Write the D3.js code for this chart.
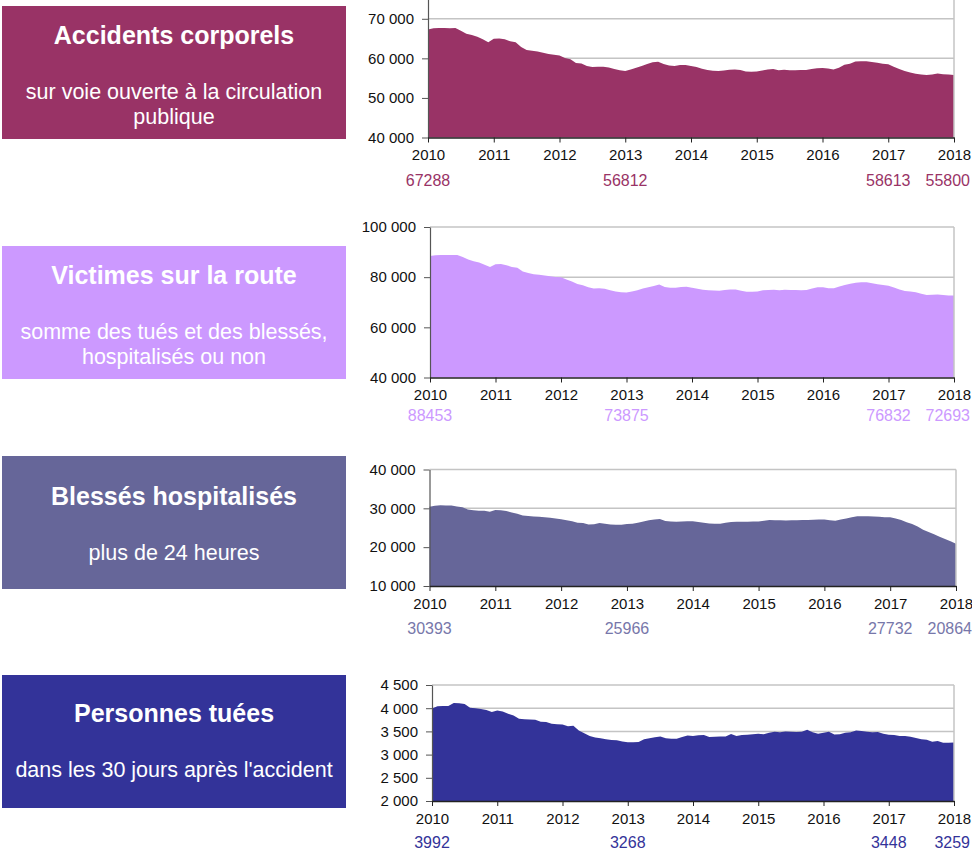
<!DOCTYPE html>
<html>
<head>
<meta charset="utf-8">
<script src="https://cdn.jsdelivr.net/npm/d3@7"></script>
<style>
  body { margin: 0; background: #fff; }
  svg { font-family: "Liberation Sans", Arial, sans-serif; }
</style>
</head>
<body>
<svg id="chart" width="972" height="852"></svg>
<script>

// cumuls sur 12 mois glissants, un point par mois (janv. 2010 -> janv. 2018)
var accidents = [
  67288, 67600, 67650, 67650, 67600, 67650, 67000, 66200, 65900, 65450, 64800, 64100,
  64950, 65000, 64800, 64300, 64100, 62900, 62100, 61900, 61750, 61400, 61100, 60900,
  60700, 60100, 59800, 58800, 58700, 58100, 57800, 57900, 57900, 57700, 57300, 57000,
  56812, 57200, 57600, 58100, 58600, 59000, 59150, 58600, 58200, 58050, 58300, 58300,
  58100, 57800, 57400, 57050, 56850, 56800, 56900, 57100, 57200, 57050, 56650, 56600,
  56650, 56900, 57200, 57300, 57000, 57150, 57000, 57000, 57050, 57050, 57300, 57500,
  57550, 57450, 57200, 57600, 58400, 58650, 59200, 59300, 59300, 59100, 58900, 58613,
  58500, 57900, 57300, 56800, 56400, 56100, 55900, 55800, 55900, 56200, 56000, 55900,
  55800];

var victimes = [
  88453, 88700, 88800, 88800, 88800, 88800, 88000, 87000, 86300, 85800, 85000, 84100,
  85150, 85200, 84800, 84100, 83800, 82300, 81700, 81200, 80950, 80700, 80400, 80100,
  80000, 79100, 78300, 77300, 76800, 76000, 75500, 75600, 75400, 74800, 74300, 74000,
  73875, 74300, 74800, 75500, 76000, 76500, 77100, 76100, 75800, 75800, 76100, 76200,
  75800, 75400, 75000, 74800, 74650, 74600, 74900, 75100, 75100, 74600, 74200, 74200,
  74300, 74800, 74900, 75000, 74750, 75000, 74850, 74850, 74800, 74900, 75500, 75950,
  76000, 75600, 75600, 76300, 76900, 77400, 77800, 77950, 77950, 77600, 77200, 76832,
  76600, 75900, 75100, 74500, 74300, 74000, 73400, 72900, 73000, 73100, 72900, 72700,
  72693];

var blesses = [
  30393, 30650, 30780, 30750, 30700, 30500, 30250, 29700, 29500, 29400, 29350, 29150,
  29550, 29500, 29300, 28950, 28600, 28150, 28000, 27900, 27850, 27700, 27550, 27350,
  27200, 26900, 26700, 26300, 26200, 25850, 25900, 26200, 26050, 25850, 25800, 25800,
  25966, 26050, 26300, 26600, 26900, 27100, 27250, 26750, 26600, 26550, 26600, 26650,
  26650, 26500, 26300, 26100, 26050, 26050, 26300, 26500, 26550, 26550, 26550, 26600,
  26600, 26800, 27000, 26900, 26900, 26850, 26900, 26950, 27000, 27000, 27050, 27150,
  27150, 26900, 26800, 27100, 27400, 27700, 27950, 27950, 27950, 27900, 27850, 27732,
  27700, 27400, 27000, 26400, 25950, 25300, 24500, 23900, 23300, 22700, 22100, 21500,
  20864];

var tues = [
  3992, 4040, 4050, 4050, 4110, 4105, 4090, 4010, 4000, 3985, 3960, 3920,
  3950, 3930, 3880, 3840, 3770, 3760, 3755, 3750, 3710, 3700, 3665, 3655,
  3650, 3610, 3620, 3520, 3460, 3400, 3370, 3355, 3330, 3315, 3310, 3280,
  3268, 3265, 3270, 3330, 3350, 3375, 3390, 3350, 3340, 3340, 3380, 3410,
  3400, 3415, 3425, 3380, 3385, 3390, 3390, 3445, 3400, 3420, 3430, 3440,
  3450, 3440, 3470, 3490, 3480, 3500, 3495, 3485, 3490, 3535, 3480, 3450,
  3470, 3490, 3435, 3440, 3470, 3480, 3520, 3510, 3495, 3480, 3485, 3448,
  3430, 3420, 3400, 3400, 3385, 3360, 3330, 3320, 3275, 3295, 3255, 3255,
  3259];

var startYear = 2010;
var yearTicks = [2010, 2011, 2012, 2013, 2014, 2015, 2016, 2017, 2018];

// chiffres affichés sous chaque graphe
var labelYears = [2010, 2013, 2017, 2018];
var accidentsLabels = ['67288', '56812', '58613', '55800'];
var victimesLabels = ['88453', '73875', '76832', '72693'];
var blessesLabels = ['30393', '25966', '27732', '20864'];
var tuesLabels = ['3992', '3268', '3448', '3259'];

var accidentsTicks = [40000, 50000, 60000, 70000];
var victimesTicks = [40000, 60000, 80000, 100000];
var blessesTicks = [10000, 20000, 30000, 40000];
var tuesTicks = [2000, 2500, 3000, 3500, 4000, 4500];

var panels = [
  { title: 'Accidents corporels', sub: ['sur voie ouverte à la circulation', 'publique'],
    color: '#993366', labelColor: '#993366', data: accidents, labels: accidentsLabels,
    ticks: accidentsTicks, ymin: 40000, ymax: 75000,
    box: 6, textShift: 0, left: 428, right: 954, top: -1, bottom: 137.5, labelY: 186 },
  { title: 'Victimes sur la route', sub: ['somme des tués et des blessés,', 'hospitalisés ou non'],
    color: '#cc99ff', labelColor: '#cc99ff', data: victimes, labels: victimesLabels,
    ticks: victimesTicks, ymin: 40000, ymax: 100000,
    box: 246, textShift: 0, left: 430, right: 954, top: 227, bottom: 377.5, labelY: 421 },
  { title: 'Blessés hospitalisés', sub: ['plus de 24 heures'],
    color: '#666699', labelColor: '#7777aa', data: blesses, labels: blessesLabels,
    ticks: blessesTicks, ymin: 10000, ymax: 40000,
    box: 456, textShift: 11, left: 429.5, right: 956, top: 469.5, bottom: 586, labelY: 634 },
  { title: 'Personnes tuées', sub: ["dans les 30 jours après l'accident"],
    color: '#333399', labelColor: '#333399', data: tues, labels: tuesLabels,
    ticks: tuesTicks, ymin: 2000, ymax: 4500,
    box: 675, textShift: 9, left: 432, right: 954, top: 685, bottom: 801, labelY: 848 }
];

var fr = d3.formatLocale({ decimal: ',', thousands: '\u00a0', grouping: [3], currency: ['', ' €'] });
var fmt = fr.format(',d');

var svg = d3.select('#chart');

function drawPanel(p) {

  /* cartouche de gauche */
  var g = svg.append('g');
  g.append('rect')
    .attr('x', 2).attr('y', p.box)
    .attr('width', 344).attr('height', 133)
    .attr('fill', p.color);
  g.append('text')
    .attr('x', 174).attr('y', p.box + 38 + p.textShift)
    .attr('text-anchor', 'middle')
    .attr('fill', '#fff')
    .attr('font-size', '25px')
    .attr('font-weight', 'bold')
    .text(p.title);
  p.sub.forEach(function (line, i) {
    g.append('text')
      .attr('x', 174).attr('y', p.box + 93 + p.textShift + i * 25)
      .attr('text-anchor', 'middle')
      .attr('fill', '#fff')
      .attr('font-size', '21.5px')
      .text(line);
  });

  /* graphe */
  var x = d3.scaleLinear().domain([2010, 2018]).range([p.left, p.right]);
  var y = d3.scaleLinear().domain([p.ymin, p.ymax]).range([p.bottom, p.top]);

  var c = svg.append('g');

  c.selectAll('line.grid')
    .data(p.ticks.filter(function (t) { return t > p.ymin; }))
    .enter().append('line')
    .attr('class', 'grid')
    .attr('x1', p.left).attr('x2', p.right)
    .attr('y1', function (d) { return y(d); })
    .attr('y2', function (d) { return y(d); })
    .attr('stroke', '#c4c4c4')
    .attr('stroke-width', 1.5);

  var area = d3.area()
    .x(function (d, i) { return x(startYear + i / 12); })
    .y0(y(p.ymin))
    .y1(function (d) { return y(d); });

  c.append('path')
    .datum(p.data)
    .attr('d', area)
    .attr('fill', p.color);

  // bord droit
  c.append('line')
    .attr('x1', p.right).attr('x2', p.right)
    .attr('y1', y(p.ymax)).attr('y2', p.bottom)
    .attr('stroke', '#c4c4c4')
    .attr('stroke-width', 1.5);

  var yAxis = d3.axisLeft(y).tickValues(p.ticks).tickFormat(fmt)
    .tickSize(6).tickPadding(8).tickSizeOuter(0);
  var ya = c.append('g')
    .attr('transform', 'translate(' + p.left + ',0)')
    .call(yAxis);
  ya.select('.domain').attr('stroke', '#555').attr('stroke-width', 1.2);
  ya.selectAll('.tick line').attr('stroke', '#555');
  ya.selectAll('text').attr('font-size', '15px').attr('fill', '#111')
    .attr('font-family', '"Liberation Sans", Arial, sans-serif');

  var xAxis = d3.axisBottom(x).tickValues(yearTicks).tickFormat(d3.format('d'))
    .tickSize(5).tickPadding(7).tickSizeOuter(0);
  var xa = c.append('g')
    .attr('transform', 'translate(0,' + p.bottom + ')')
    .call(xAxis);
  xa.select('.domain').attr('stroke', '#222').attr('stroke-width', 1.5);
  xa.selectAll('.tick line').attr('stroke', '#222');
  xa.selectAll('text').attr('font-size', '15px').attr('fill', '#111')
    .attr('font-family', '"Liberation Sans", Arial, sans-serif');

  // valeurs remarquables sous l'axe
  c.selectAll('text.val')
    .data(p.labels)
    .enter().append('text')
    .attr('class', 'val')
    .attr('x', function (d, i) { return i == p.labels.length - 1 ? x(labelYears[i]) + 16 : x(labelYears[i]); })
    .attr('y', p.labelY)
    .attr('text-anchor', function (d, i) { return i == p.labels.length - 1 ? 'end' : 'middle'; })
    .attr('fill', p.labelColor)
    .attr('font-size', '16px')
    .text(function (d) { return d; });
}

panels.forEach(drawPanel);

</script>
</body>
</html>
